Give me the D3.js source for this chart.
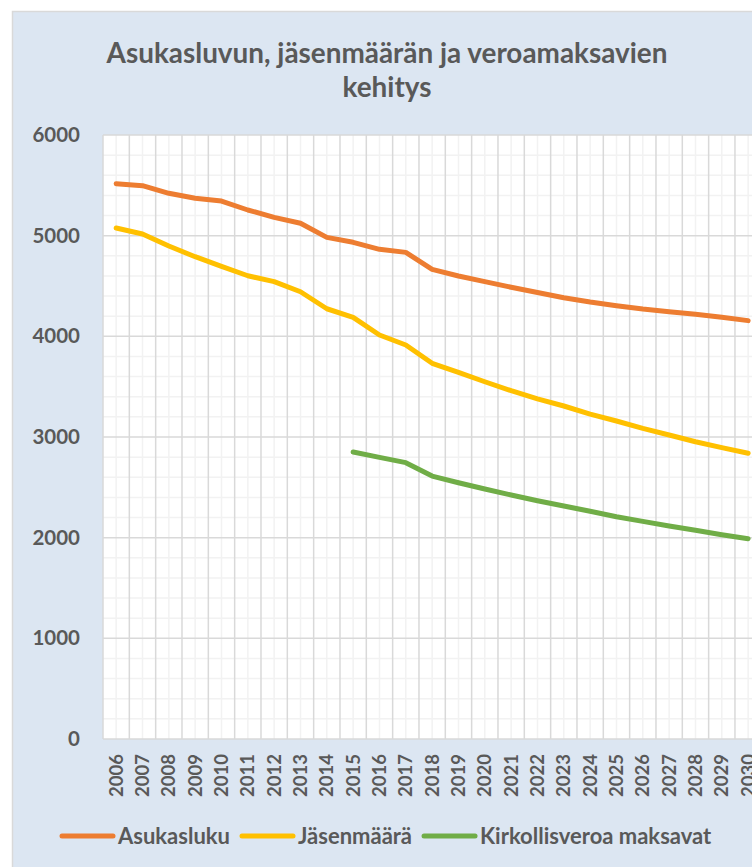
<!DOCTYPE html>
<html>
<head>
<meta charset="utf-8">
<script src="https://cdn.jsdelivr.net/npm/d3@7"></script>
<style>
  html, body { margin: 0; padding: 0; background: #ffffff; overflow: hidden; }
  svg { display: block; }
  text { font-family: Lato, "Open Sans", sans-serif; font-weight: bold; fill: #595959; }
</style>
</head>
<body>
<div id="chart"></div>
<script>
'use strict';

// ── Data ──
var years = ['2006', '2007', '2008', '2009', '2010', '2011', '2012', '2013', '2014', '2015',
             '2016', '2017', '2018', '2019', '2020', '2021', '2022', '2023', '2024', '2025',
             '2026', '2027', '2028', '2029', '2030'];

var asukasluku = [5516, 5497, 5421, 5371, 5344, 5255, 5182, 5123, 4983, 4934,
                  4864, 4834, 4665, 4599, 4543, 4487, 4436, 4384, 4341, 4304,
                  4271, 4245, 4219, 4189, 4156];

var jasenmaara = [5076, 5016, 4897, 4791, 4695, 4602, 4543, 4443, 4274, 4189,
                  4013, 3914, 3732, 3642, 3549, 3460, 3378, 3308, 3228, 3159,
                  3086, 3020, 2953, 2894, 2838];

// first value belongs to 2015
var veroaMaksavat = [null, null, null, null, null, null, null, null, null, 2851,
                     2798, 2745, 2612, 2546, 2483, 2424, 2367, 2315, 2262, 2208,
                     2162, 2116, 2073, 2029, 1990];

var seriesNames = ['Asukasluku', 'Jäsenmäärä', 'Kirkollisveroa maksavat'];
var seriesColors = ['#ED7D31', '#FFC000', '#70AD47'];
var yTicks = [0, 1000, 2000, 3000, 4000, 5000, 6000];

var W = 752, H = 867;
var plot = {left: 103, top: 135, right: 761.3, bottom: 739};

var svg = d3.select('#chart').append('svg').attr('width', W).attr('height', H);

// chart area
svg.append('rect')
    .attr('x', 12.5).attr('y', 11.5).attr('width', 800).attr('height', 900)
    .style('fill', '#DCE6F2').style('stroke', '#D9D9D9').style('stroke-width', 1.5);

svg.append('rect')
    .attr('x', plot.left).attr('y', plot.top)
    .attr('width', plot.right - plot.left).attr('height', plot.bottom - plot.top)
    .style('fill', '#ffffff');

var x = d3.scaleBand().domain(years).range([plot.left, plot.right]);
var y = d3.scaleLinear().domain([0, 6000]).range([plot.bottom, plot.top]);

var grid = svg.append('g').attr('class', 'grid');

// minor gridlines
var minorY = d3.range(0, 6001, 200).filter(function(v) { return v % 1000 !== 0; });
grid.selectAll('.minor-h').data(minorY).enter().append('line')
    .attr('x1', plot.left).attr('x2', plot.right)
    .attr('y1', function(d) { return y(d); }).attr('y2', function(d) { return y(d); })
    .style('stroke', '#F2F2F2').style('stroke-width', 1.5);

grid.selectAll('.minor-v').data(years).enter().append('line')
    .attr('x1', function(d) { return x(d) + x.bandwidth() / 2; })
    .attr('x2', function(d) { return x(d) + x.bandwidth() / 2; })
    .attr('y1', plot.top).attr('y2', plot.bottom)
    .style('stroke', '#F2F2F2').style('stroke-width', 1.5);

// major gridlines
grid.selectAll('.major-h').data(yTicks).enter().append('line')
    .attr('x1', plot.left).attr('x2', plot.right)
    .attr('y1', function(d) { return y(d); }).attr('y2', function(d) { return y(d); })
    .style('stroke', '#D9D9D9').style('stroke-width', 1.5);

grid.selectAll('.major-v').data(years.concat(['end'])).enter().append('line')
    .attr('x1', function(d, i) { return plot.left + i * x.step(); })
    .attr('x2', function(d, i) { return plot.left + i * x.step(); })
    .attr('y1', plot.top).attr('y2', plot.bottom)
    .style('stroke', '#D9D9D9').style('stroke-width', 1.5);

// axes
var yAxis = svg.append('g')
    .attr('transform', 'translate(' + plot.left + ',0)')
    .call(d3.axisLeft(y).tickValues(yTicks).tickSize(0).tickPadding(23).tickFormat(d3.format('d')));
yAxis.select('.domain').remove();
yAxis.selectAll('text').style('font-size', '20.5px').style('font-family', 'Lato, sans-serif').attr('fill', '#595959');

var xAxis = svg.append('g')
    .attr('transform', 'translate(0,' + plot.bottom + ')')
    .call(d3.axisBottom(x).tickSize(0));
xAxis.select('.domain').remove();
xAxis.selectAll('text')
    .style('font-size', '18.5px').style('font-family', 'Lato, sans-serif').attr('fill', '#595959')
    .attr('transform', 'rotate(-90)')
    .attr('text-anchor', 'end')
    .attr('x', -15).attr('y', 0).attr('dy', '0.35em');

// lines
var lineGen = d3.line()
    .defined(function(d) { return d != null; })
    .x(function(d, i) { return x(years[i]) + x.bandwidth() / 2; })
    .y(function(d) { return y(d); });

[asukasluku, jasenmaara, veroaMaksavat].forEach(function(s, k) {
    svg.append('path')
        .datum(s)
        .attr('d', lineGen)
        .style('fill', 'none')
        .style('stroke', seriesColors[k])
        .style('stroke-width', 5)
        .style('stroke-linecap', 'round')
        .style('stroke-linejoin', 'round');
});

// title
var titleLines = ['Asukasluvun, jäsenmäärän ja veroamaksavien', 'kehitys'];
var title = svg.append('g');
titleLines.forEach(function(t, i) {
    title.append('text')
        .attr('x', 387).attr('y', 63 + i * 34)
        .attr('text-anchor', 'middle')
        .style('font-size', '24px')
        .text(t);
});
// squeeze title to the reference width
var tw = title.select('text').node().getComputedTextLength();
var fs = 24 * 561 / tw;
title.selectAll('text').style('font-size', fs + 'px');

// legend
var legend = svg.append('g').attr('transform', 'translate(60,836)');
var lx = 0;
seriesNames.forEach(function(name, k) {
    legend.append('line')
        .attr('x1', lx + 2).attr('x2', lx + 53).attr('y1', 0).attr('y2', 0)
        .style('stroke', seriesColors[k]).style('stroke-width', 5).style('stroke-linecap', 'round');
    var t = legend.append('text')
        .attr('x', lx + 58).attr('y', 0).attr('dy', '0.35em')
        .style('font-size', '22px')
        .text(name);
    lx += 58 + t.node().getComputedTextLength() + 10;
});
</script>
</body>
</html>
